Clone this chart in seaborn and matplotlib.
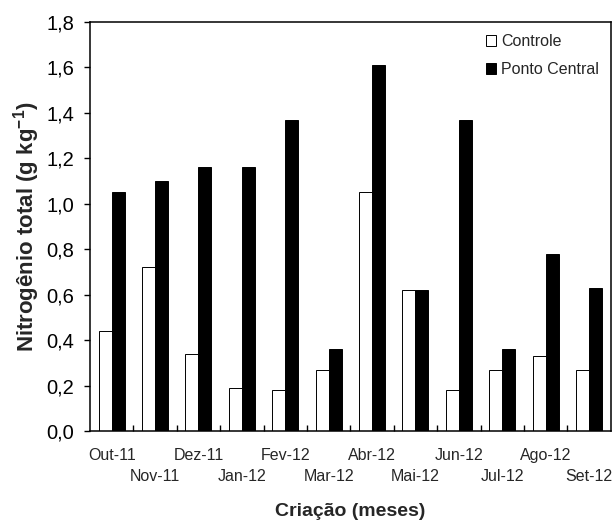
import matplotlib
matplotlib.use("Agg")
import matplotlib.pyplot as plt
import matplotlib.transforms as mtransforms
import seaborn as sns
import pandas as pd
import numpy as np
from matplotlib.ticker import FixedLocator, FuncFormatter

meses = ["Out-11", "Nov-11", "Dez-11", "Jan-12", "Fev-12", "Mar-12",
         "Abr-12", "Mai-12", "Jun-12", "Jul-12", "Ago-12", "Set-12"]
controle = [0.44, 0.72, 0.34, 0.19, 0.18, 0.27, 1.05, 0.62, 0.18, 0.27, 0.33, 0.27]
ponto_central = [1.05, 1.10, 1.16, 1.16, 1.37, 0.36, 1.61, 0.62, 1.37, 0.36, 0.78, 0.63]
series = ["Controle", "Ponto Central"]
colors = ["white", "black"]

df = pd.DataFrame({
    "mes": meses * 2,
    "valor": controle + ponto_central,
    "serie": [series[0]] * len(meses) + [series[1]] * len(meses),
})

sns.set_style("ticks")
plt.rcParams["font.family"] = ["Liberation Sans", "DejaVu Sans"]
plt.rcParams["mathtext.fontset"] = "custom"
plt.rcParams["mathtext.rm"] = "Liberation Sans:bold"
plt.rcParams["mathtext.bf"] = "Liberation Sans:bold"

fig, ax = plt.subplots(figsize=(6.12, 5.25), dpi=100)
fig.subplots_adjust(left=0.147, right=0.998, bottom=0.179, top=0.958)

sns.barplot(data=df, x="mes", y="valor", hue="serie", order=meses,
            hue_order=series, palette=colors, saturation=1, width=0.6,
            edgecolor="black", linewidth=0.7, ax=ax)

ax.set_ylim(0, 1.8)
ax.set_xlim(-0.5, len(meses) - 0.5)
ax.set_yticks(np.arange(0, 1.81, 0.2))
ax.yaxis.set_major_formatter(FuncFormatter(lambda v, p: f"{v:.1f}".replace(".", ",")))
ax.tick_params(axis="y", direction="out", length=4.5, width=1, labelsize=14.5, pad=7, colors="black")

ax.set_xticks(range(len(meses)))
ax.set_xticklabels(meses, fontsize=11.5)
ax.tick_params(axis="x", which="major", length=0, pad=12)
ax.xaxis.set_minor_locator(FixedLocator(np.arange(0.5, len(meses) - 1, 1.0)))
ax.tick_params(axis="x", which="minor", direction="in", length=4, width=1, color="black")

for s in ax.spines.values():
    s.set_visible(True)
    s.set_linewidth(1.1)
    s.set_color("black")

ax.set_xlabel("Criação (meses)", fontsize=14, fontweight="bold")
ax.xaxis.set_label_coords(0.5, -0.175)
ax.set_ylabel(r"Nitrogênio total (g kg$^{-1}$)", fontsize=16, fontweight="bold", labelpad=3)

leg = ax.legend(loc="upper right", bbox_to_anchor=(1.005, 1.005), frameon=False, fontsize=11.5,
                handlelength=0.65, handleheight=0.65, handletextpad=0.3, labelspacing=0.8)
for h in leg.legend_handles:
    h.set_edgecolor("black")
    h.set_linewidth(0.7)

# stagger the odd month labels onto a second row
off = mtransforms.ScaledTranslation(0, -0.21, fig.dpi_scale_trans)
for i, lbl in enumerate(ax.get_xticklabels()):
    if i % 2 == 1:
        lbl.set_transform(lbl.get_transform() + off)

fig.savefig("out.png", dpi=100)
